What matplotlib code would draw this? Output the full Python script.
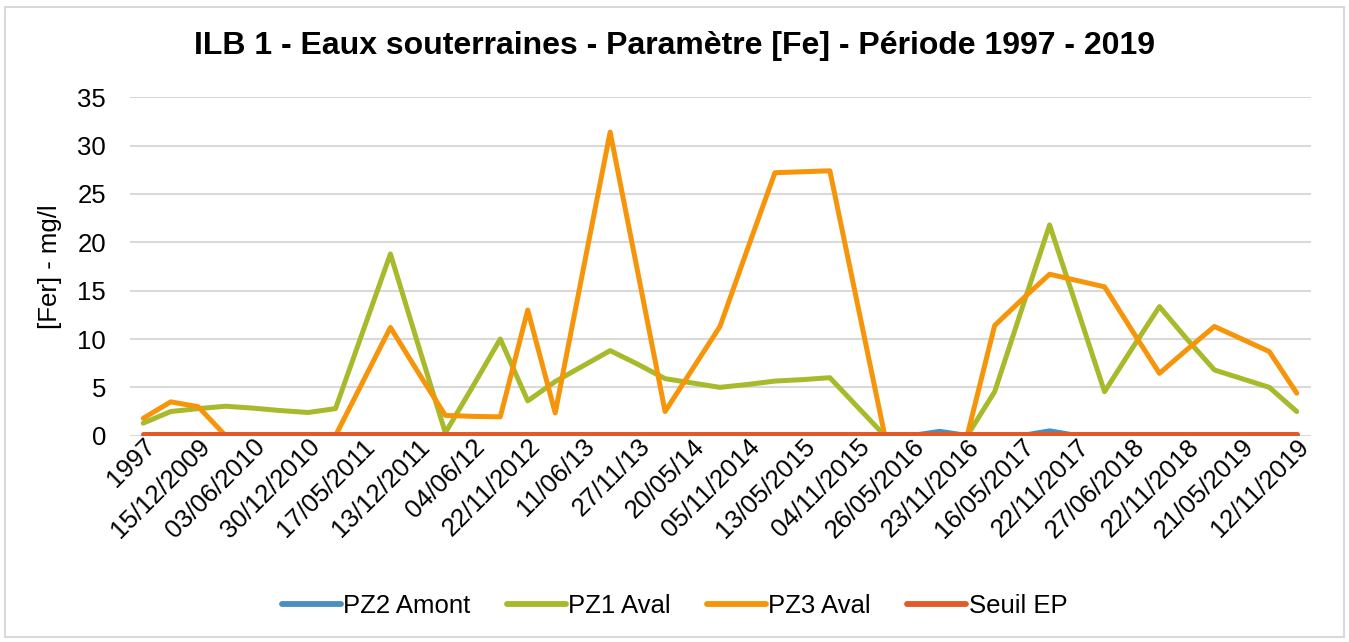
import numpy as np
import matplotlib
matplotlib.use("Agg")
import matplotlib.pyplot as plt
from matplotlib.patches import Rectangle

plt.rcParams['font.family'] = ['Liberation Sans', 'DejaVu Sans']

dates = ["1997", "02/09/2009", "15/12/2009", "10/03/2010", "03/06/2010", "15/09/2010",
         "30/12/2010", "10/03/2011", "17/05/2011", "20/09/2011", "13/12/2011", "15/03/12",
         "04/06/12", "10/09/2012", "22/11/2012", "12/03/13", "11/06/13", "10/09/13",
         "27/11/13", "18/02/14", "20/05/14", "19/08/14", "05/11/2014", "10/02/2015",
         "13/05/2015", "12/08/2015", "04/11/2015", "17/02/2016", "26/05/2016", "24/08/2016",
         "23/11/2016", "22/02/2017", "16/05/2017", "23/08/2017", "22/11/2017", "07/03/2018",
         "27/06/2018", "05/09/2018", "22/11/2018", "20/02/2019", "21/05/2019", "20/08/2019",
         "12/11/2019"]

pz2_amont = [np.nan, np.nan, 0.02, 0.02, 0.02, 0.02, 0.02, 0.02, 0.02, 0.02, 0.02, 0.02,
             0.02, 0.02, 0.02, 0.02, 0.02, 0.02, 0.02, 0.02, 0.02, 0.02, 0.02, 0.02,
             0.02, 0.02, 0.02, 0.02, 0.02, 0.45, 0.02, 0.02, 0.02, 0.5, 0.02, 0.02,
             0.02, 0.02, 0.02, 0.02, 0.02, 0.02, 0.02]

pz1_aval = [1.3, 2.5, 2.8, 3.05, 2.85, 2.6, 2.4, 2.8, 10.8, 18.8, 9.5, 0.3,
            5.1, 10.0, 3.6, 5.6, 7.2, 8.8, 7.4, 5.9, 5.45, 5.0, 5.3, 5.65,
            5.8, 6.0, 3.0, 0, 0, 0, 0, 4.55, 13.2, 21.8, 13.2, 4.55,
            9.0, 13.35, 10.0, 6.8, 5.9, 5.0, 2.5]

pz3_aval = [1.8, 3.5, 3.0, 0, 0, 0, 0, 0, 5.6, 11.2, 6.6, 2.1,
            2.0, 1.95, 13.0, 2.35, 16.9, 31.4, 17.0, 2.5, 6.9, 11.3, 19.3, 27.2,
            27.3, 27.4, 13.7, 0, 0, 0, 0, 11.4, 14.1, 16.7, 16.05, 15.4,
            10.9, 6.45, 8.9, 11.3, 10.0, 8.7, 4.4]

seuil_ep = [0.2] * len(dates)

series = [("PZ2 Amont", pz2_amont, "#4A8FBE"),
          ("PZ1 Aval", pz1_aval, "#A8BA2B"),
          ("PZ3 Aval", pz3_aval, "#F7950A"),
          ("Seuil EP", seuil_ep, "#E05A2C")]

W, H = 1349, 642
fig = plt.figure(figsize=(W / 100, H / 100), dpi=100)
ax = fig.add_axes([129.5 / W, 1 - 435.7 / H, (1310.5 - 129.5) / W, (435.7 - 97.3) / H])

x = np.arange(len(dates))
for name, vals, col in series:
    ax.plot(x, vals, color=col, lw=3.6, label=name,
            solid_capstyle='round', solid_joinstyle='round')

ax.set_xlim(-0.5, len(dates) - 0.5)
ax.set_ylim(0, 35)
ax.set_yticks(np.arange(0, 36, 5))
ax.yaxis.grid(True, color="#D9D9D9", lw=1.5)
ax.set_axisbelow(True)
for s in ax.spines.values():
    s.set_visible(False)
ax.tick_params(axis='both', length=0, labelsize=18.5, colors='black')
ax.tick_params(axis='y', pad=17)
ax.set_xticks(x[::2])
ax.set_xticklabels(dates[::2], rotation=45, ha='right', rotation_mode='anchor')
ax.tick_params(axis='x', pad=-1)
ax.set_ylabel("[Fer] - mg/l", fontsize=18.5, labelpad=11)

fig.text(0.5, 1 - 46 / H, "ILB 1 - Eaux souterraines - Paramètre [Fe] - Période 1997 - 2019",
         ha='center', va='center', fontsize=23, fontweight='bold')

leg = fig.legend(loc='center', bbox_to_anchor=(0.5, 1 - 606 / H), ncol=4, frameon=False,
                 fontsize=18.5, handlelength=2.3, handletextpad=0.1, columnspacing=1.4)
for h in leg.get_lines():
    h.set_linewidth(4.2)

fig.patches.append(Rectangle((5 / W, 5 / H), (W - 10) / W, (H - 12) / H, transform=fig.transFigure,
                             fill=False, edgecolor="#D9D9D9", lw=1.5))

fig.savefig("out.png", dpi=100)
